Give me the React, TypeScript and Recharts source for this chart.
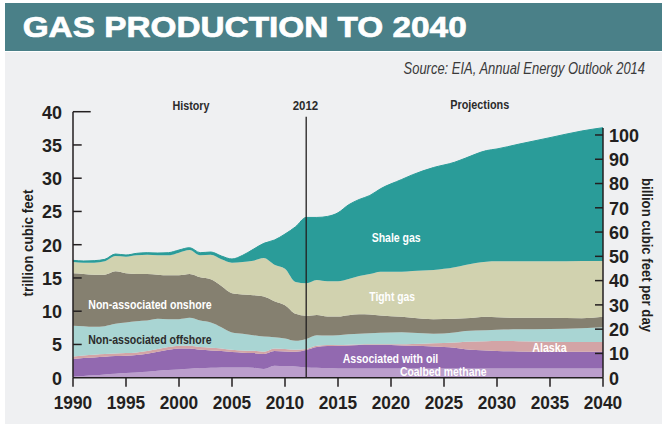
import React from 'react';
import { AreaChart, Area, XAxis, YAxis, ReferenceLine, ReferenceDot } from 'recharts';

// ---- data (trillion cubic feet) ----
const years = [1990, 1991, 1992, 1993, 1994, 1995, 1996, 1997, 1998, 1999, 2000, 2001, 2002, 2003, 2004, 2005, 2006, 2007, 2008, 2009, 2010, 2011, 2012, 2013, 2014, 2015, 2016, 2017, 2018, 2019, 2021, 2022, 2024, 2026, 2027, 2029, 2030, 2032, 2035, 2038, 2040];
const coalbed = [0.15, 0.25, 0.35, 0.5, 0.6, 0.7, 0.8, 0.9, 1.05, 1.15, 1.25, 1.35, 1.45, 1.5, 1.55, 1.55, 1.55, 1.5, 1.3, 1.8, 1.75, 1.7, 1.55, 1.5, 1.45, 1.4, 1.4, 1.4, 1.4, 1.4, 1.4, 1.4, 1.4, 1.4, 1.4, 1.4, 1.4, 1.4, 1.4, 1.4, 1.4];
const associated = [2.65, 2.7, 2.7, 2.65, 2.65, 2.6, 2.6, 2.7, 2.85, 3.05, 3.15, 3.05, 2.75, 2.6, 2.45, 2.3, 2.2, 2.2, 2.25, 2.2, 2.2, 2.2, 2.62, 3.1, 3.3, 3.4, 3.45, 3.5, 3.5, 3.5, 3.45, 3.4, 3.3, 3.1, 2.87, 2.7, 2.62, 2.55, 2.52, 2.52, 2.52];
const alaska = [0.4, 0.4, 0.4, 0.4, 0.4, 0.4, 0.4, 0.4, 0.4, 0.4, 0.4, 0.4, 0.4, 0.4, 0.4, 0.35, 0.35, 0.35, 0.35, 0.4, 0.35, 0.3, 0.15, 0.2, 0.15, 0.12, 0.12, 0.1, 0.12, 0.12, 0.17, 0.25, 0.47, 0.8, 1.15, 1.4, 1.5, 1.55, 1.5, 1.46, 1.43];
const offshore = [4.6, 4.4, 4.2, 4.2, 4.45, 4.6, 4.7, 4.6, 4.55, 4.2, 4.0, 4.2, 4.0, 3.8, 3.2, 2.6, 2.5, 2.35, 2.3, 1.7, 1.6, 1.35, 1.5, 1.6, 1.45, 1.48, 1.55, 1.6, 1.68, 1.73, 1.8, 1.7, 1.45, 1.5, 1.6, 1.65, 1.7, 1.77, 1.9, 2.07, 2.23];
const onshore = [7.9, 7.85, 7.85, 7.75, 7.9, 7.4, 7.1, 7.0, 6.65, 6.6, 6.6, 6.6, 6.5, 6.5, 6.2, 5.9, 5.9, 6.0, 6.0, 5.4, 5.0, 4.05, 3.48, 3.03, 2.85, 2.8, 2.88, 2.93, 2.8, 2.6, 2.33, 2.25, 2.16, 2.05, 1.91, 2.02, 1.88, 1.73, 1.68, 1.5, 1.59];
const tight = [1.7, 1.7, 1.8, 2.0, 2.3, 2.5, 2.8, 2.9, 2.9, 3.0, 3.4, 3.6, 3.3, 3.7, 4.0, 4.6, 4.9, 5.2, 5.8, 5.5, 5.5, 4.8, 4.9, 5.27, 5.3, 5.3, 5.45, 5.77, 6.1, 6.6, 6.8, 7.05, 7.42, 7.75, 8.02, 8.28, 8.4, 8.5, 8.5, 8.6, 8.38];
const shale = [0.25, 0.25, 0.3, 0.3, 0.3, 0.25, 0.3, 0.3, 0.35, 0.4, 0.4, 0.35, 0.4, 0.4, 0.5, 0.55, 1.0, 1.7, 2.2, 3.7, 5.2, 8.3, 9.9, 9.4, 9.75, 10.3, 11.15, 11.5, 11.8, 12.45, 13.85, 14.45, 15.4, 15.8, 16.05, 16.7, 16.9, 17.6, 18.6, 19.55, 20.05];

const xTicks = [1990, 1995, 2000, 2005, 2010, 2015, 2020, 2025, 2030, 2035, 2040];
const leftTicks = [0, 5, 10, 15, 20, 25, 30, 35, 40];
const rightTicks = [0, 10, 20, 30, 40, 50, 60, 70, 80, 90, 100];
const TCF_PER_BCFD = 0.365; // 1 bcf/day = 0.365 tcf/year

const data = years.map((year, i) => ({
  year,
  coalbed: coalbed[i],
  associated: associated[i],
  alaska: alaska[i],
  offshore: offshore[i],
  onshore: onshore[i],
  tight: tight[i],
  shale: shale[i],
}));

const series = [
  { key: 'coalbed', color: '#bb9ecc' },
  { key: 'associated', color: '#9269b0' },
  { key: 'alaska', color: '#d3a4a6' },
  { key: 'offshore', color: '#a9d5d3' },
  { key: 'onshore', color: '#858070' },
  { key: 'tight', color: '#d1d2af' },
  { key: 'shale', color: '#2a9c99' },
];

// labels placed in data coordinates (year, tcf)
const annotations = [
  { text: 'History', year: 2001.13, value: 40.93, color: '#2b2b2b', size: 12.5, width: 37 },
  { text: '2012', year: 2011.93, value: 40.86, color: '#2b2b2b', size: 12.5, width: 25.5 },
  { text: 'Projections', year: 2028.37, value: 40.95, color: '#2b2b2b', size: 12.5, width: 59 },
  { text: 'Shale gas', year: 2020.49, value: 21.05, color: '#ffffff', size: 13, width: 49 },
  { text: 'Tight gas', year: 2020.11, value: 12.24, color: '#ffffff', size: 13, width: 45.7 },
  { text: 'Non-associated onshore', year: 1997.26, value: 10.98, color: '#ffffff', size: 13, width: 123.4 },
  { text: 'Non-associated offshore', year: 1997.26, value: 5.67, color: '#2b2b2b', size: 13, width: 123.4 },
  { text: 'Alaska', year: 2034.95, value: 4.54, color: '#ffffff', size: 13, width: 34.4 },
  { text: 'Associated with oil', year: 2019.95, value: 2.86, color: '#ffffff', size: 13, width: 95.6 },
  { text: 'Coalbed methane', year: 2024.93, value: 0.96, color: '#ffffff', size: 13, width: 86.7 },
];

const FONT = "'Liberation Sans Narrow', 'Liberation Sans', Arial, sans-serif";
const INK = '#231f20';

const XTick = (props: any) => {
  const { x, y, payload } = props;
  const label = String(payload.value);
  return (
    <g>
      <line x1={x} x2={x} y1={y} y2={y + 9} stroke={INK} strokeWidth={1.5} />
      <text x={x} y={y + 31.6} textAnchor="middle" fontFamily={FONT} fontWeight="bold" fontSize={19} fill={INK}
        textLength={38.5} lengthAdjust="spacingAndGlyphs">{label}</text>
    </g>
  );
};

const LeftTick = (props: any) => {
  const { x, y, payload } = props;
  const v = payload.value;
  const label = String(v);
  const len = v === 40 ? 17.7 : 8.7;
  return (
    <g>
      {v !== 0 && <line x1={x} x2={x + len} y1={y} y2={y} stroke={INK} strokeWidth={1.5} />}
      <text x={x - 11} y={y + 6.8} textAnchor="end" fontFamily={FONT} fontWeight="bold" fontSize={19} fill={INK}
        textLength={label.length * 10} lengthAdjust="spacingAndGlyphs">{label}</text>
    </g>
  );
};

const RightTick = (props: any) => {
  const { x, y, payload } = props;
  const v = payload.value;
  const label = String(v);
  return (
    <g>
      {v !== 0 && <line x1={x - 8} x2={x} y1={y} y2={y} stroke={INK} strokeWidth={1.5} />}
      <text x={x + 6} y={y + 6.8} textAnchor="start" fontFamily={FONT} fontWeight="bold" fontSize={19} fill={INK}
        textLength={label.length * 10} lengthAdjust="spacingAndGlyphs">{label}</text>
    </g>
  );
};

export default function App() {
  return (
    <div style={{ position: 'relative', width: 662, height: 430, overflow: 'hidden' }}>
      <style>{'body{margin:0;}'}</style>
      <svg width={662} height={430} style={{ position: 'absolute', left: 0, top: 0 }}>
        <rect x={0} y={0} width={662} height={430} fill="#ffffff" />
        <rect x={5} y={3} width={657} height={48} fill="#4a8088" />
        <rect x={5} y={52} width={657} height={372} fill="#eff0f2" />
        <text x={22.7} y={36.7} fontFamily={FONT} fontWeight={900} fontSize={30} fill="#ffffff" stroke="#ffffff" strokeWidth={0.7}
          textLength={444} lengthAdjust="spacingAndGlyphs">GAS PRODUCTION TO 2040</text>
        <text transform="translate(645,74) scale(0.762,1)" x={0} y={0} textAnchor="end" fontFamily="'Liberation Sans', Arial, sans-serif"
          fontStyle="italic" fontSize={17} fill="#3a3a3a">Source: EIA, Annual Energy Outlook 2014</text>
        <text transform="translate(33.3,243) rotate(-90)" textAnchor="middle" fontFamily={FONT} fontWeight="bold" fontSize={14.5} fill={INK}
          textLength={107} lengthAdjust="spacingAndGlyphs">trillion cubic feet</text>
        <text transform="translate(641.5,255) rotate(90)" textAnchor="middle" fontFamily={FONT} fontWeight="bold" fontSize={15.5} fill={INK}
          textLength={154} lengthAdjust="spacingAndGlyphs">billion cubic feet per day</text>
      </svg>
      <div style={{ position: 'absolute', left: 0, top: 0 }}>
        <AreaChart width={662} height={430} data={data} margin={{ top: 111.7, right: 0, bottom: 22.3, left: 0 }}>
          <XAxis dataKey="year" type="number" domain={[1990, 2040]} ticks={xTicks} interval={0}
            axisLine={{ stroke: INK, strokeWidth: 1.5 }} tickLine={false} tickSize={0} tickMargin={0} height={30}
            tick={(p: any) => <XTick {...p} />} />
          <YAxis yAxisId="left" orientation="left" type="number" domain={[0, 40]} ticks={leftTicks} interval={0} width={73}
            axisLine={{ stroke: INK, strokeWidth: 1.5 }} tickLine={false} tickSize={0} tickMargin={0}
            tick={(p: any) => <LeftTick {...p} />} />
          <YAxis yAxisId="right" orientation="right" type="number" domain={[0, 40 / TCF_PER_BCFD]} ticks={rightTicks} interval={0} width={59}
            axisLine={false} tickLine={false} tickSize={0} tickMargin={0} allowDataOverflow
            tick={(p: any) => <RightTick {...p} />} />
          {series.map((s) => (
            <Area key={s.key} yAxisId="left" type="monotone" dataKey={s.key} stackId="gas" fill={s.color} fillOpacity={1}
              stroke={s.key === 'shale' ? s.color : 'none'} strokeWidth={s.key === 'shale' ? 1 : 0}
              isAnimationActive={false} dot={false} activeDot={false} />
          ))}
          <ReferenceLine yAxisId="left" segment={[{ x: 2012, y: 0 }, { x: 2012, y: 39.25 }]} stroke={INK} strokeWidth={1.3} ifOverflow="visible" />
          <ReferenceLine yAxisId="right" segment={[{ x: 2040, y: 0 }, { x: 2040, y: 102.9 }]} stroke={INK} strokeWidth={1.5} ifOverflow="visible" />
          {annotations.map((a) => (
            <ReferenceDot key={a.text} yAxisId="left" x={a.year} y={a.value} r={0} ifOverflow="visible"
              shape={(p: any) => (
                <text x={p.cx} y={p.cy} textAnchor="middle" dominantBaseline="central" fontFamily={FONT} fontWeight="bold"
                  fontSize={a.size} fill={a.color} textLength={a.width} lengthAdjust="spacingAndGlyphs">{a.text}</text>
              )} />
          ))}
        </AreaChart>
      </div>
    </div>
  );
}
